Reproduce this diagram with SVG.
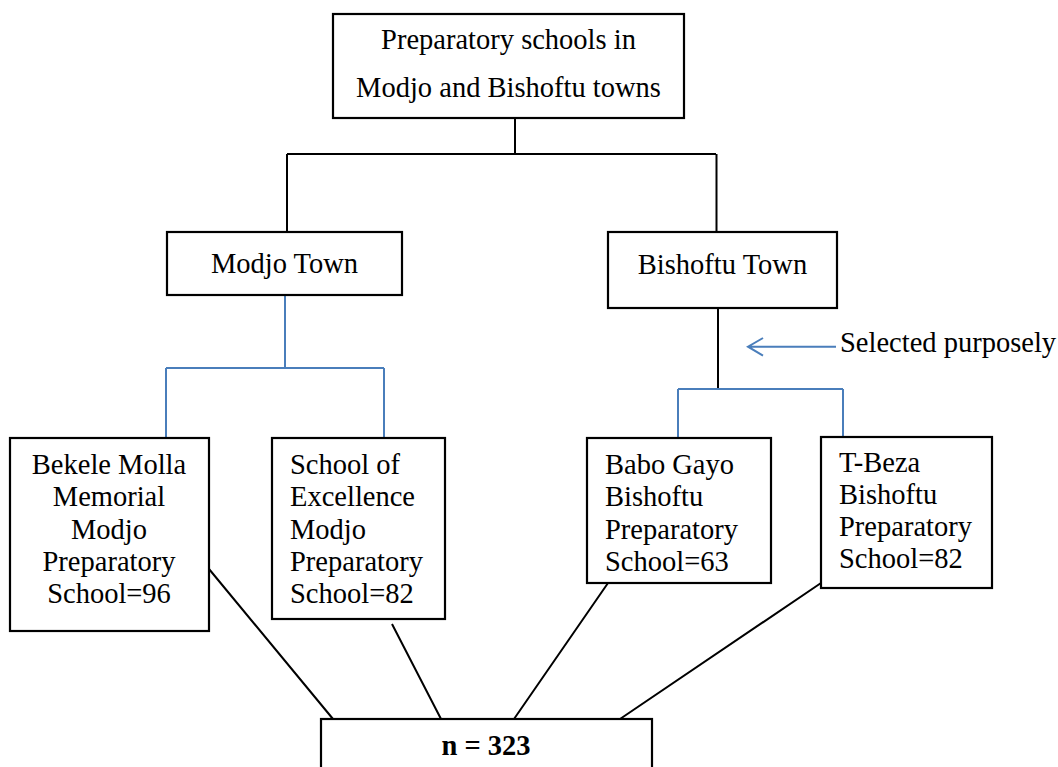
<svg xmlns="http://www.w3.org/2000/svg" width="1058" height="767" viewBox="0 0 1058 767">
<style>
.box{fill:#fff;stroke:#000;stroke-width:2.2}
.t{font-family:"Liberation Serif","Times New Roman",serif;font-size:28.5px;fill:#000}
.c{text-anchor:middle}
.k{fill:none;stroke:#000;stroke-width:2}
.b{fill:none;stroke:#4a7ebb;stroke-width:2}
</style>
<rect width="1058" height="767" fill="#fff"/>
<g id="connectors">
<path class="k" d="M515 118V154M287 154H716M287 154V232M716.5 154V232"/>
<path class="b" d="M285 295V368M166 368H384M166 368V438M384 368V438"/>
<path class="k" d="M718 308V389"/>
<path class="b" d="M678 389H843M678 389V438M843 389V437"/>
<path class="b" d="M836 346.7H748M763 338L748 346.7L763 355.7"/>
<path class="k" d="M209 569L333 719M392 624L441 719M608 583L514 719M821 583L620 719"/>
</g>
<g id="top">
<rect class="box" x="333" y="14" width="351" height="104"/>
<text class="t c" x="508.5" y="49">Preparatory schools in</text>
<text class="t c" x="508.5" y="97">Modjo and Bishoftu towns</text>
</g>
<g id="modjo">
<rect class="box" x="167" y="232" width="235" height="63"/>
<text class="t c" x="284.5" y="272.5">Modjo Town</text>
</g>
<g id="bishoftu">
<rect class="box" x="608" y="232" width="229" height="76"/>
<text class="t c" x="722.5" y="273.5">Bishoftu Town</text>
</g>
<g id="label">
<text class="t" x="840" y="352">Selected purposely</text>
</g>
<g id="bekele">
<rect class="box" x="10" y="438" width="199" height="193"/>
<text class="t c" x="109" y="473.5">Bekele Molla</text>
<text class="t c" x="109" y="506">Memorial</text>
<text class="t c" x="109" y="538.5">Modjo</text>
<text class="t c" x="109" y="570.5">Preparatory</text>
<text class="t c" x="109" y="603">School=96</text>
</g>
<g id="excellence">
<rect class="box" x="272" y="438" width="173" height="181"/>
<text class="t" x="290" y="473.5">School of</text>
<text class="t" x="290" y="506">Excellence</text>
<text class="t" x="290" y="538.5">Modjo</text>
<text class="t" x="290" y="570.5">Preparatory</text>
<text class="t" x="290" y="603">School=82</text>
</g>
<g id="babo">
<rect class="box" x="587" y="438" width="184" height="145"/>
<text class="t" x="605" y="473.5">Babo Gayo</text>
<text class="t" x="605" y="506">Bishoftu</text>
<text class="t" x="605" y="538.5">Preparatory</text>
<text class="t" x="605" y="570.5">School=63</text>
</g>
<g id="tbeza">
<rect class="box" x="821" y="437" width="171" height="151"/>
<text class="t" x="839" y="472">T-Beza</text>
<text class="t" x="839" y="504">Bishoftu</text>
<text class="t" x="839" y="536">Preparatory</text>
<text class="t" x="839" y="568">School=82</text>
</g>
<g id="total">
<rect class="box" x="321" y="719" width="331" height="60"/>
<text class="t c" x="486" y="755" font-weight="bold">n = 323</text>
</g>
</svg>
